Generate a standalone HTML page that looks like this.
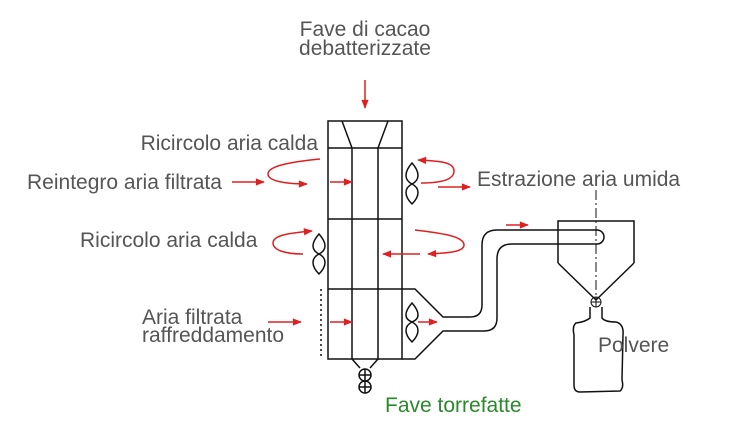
<!DOCTYPE html>
<html><head><meta charset="utf-8"><style>
html,body{margin:0;padding:0;background:#fff;}
svg{display:block}
text{font-family:"Liberation Sans",Arial,sans-serif;font-size:21px;fill:#555;}
</style></head><body>
<svg width="744" height="436" viewBox="0 0 744 436" xmlns="http://www.w3.org/2000/svg">
<defs>
<marker id="a" viewBox="0 0 10 10" refX="9" refY="5" markerWidth="11" markerHeight="9" orient="auto" markerUnits="userSpaceOnUse"><path d="M0,1 L10,5 L0,9 z" fill="#e02020"/></marker>
</defs>
<g fill="none" stroke="#111" stroke-width="1.5">
<rect x="328" y="121" width="74" height="238"/>
<line x1="328" y1="148" x2="402" y2="148"/>
<line x1="328" y1="219" x2="402" y2="219"/>
<line x1="328" y1="289" x2="402" y2="289"/>
<line x1="352" y1="148" x2="352" y2="359"/>
<line x1="378" y1="148" x2="378" y2="359"/>
<polyline points="342,121 352,148"/>
<polyline points="388,121 378,148"/>
<polyline points="352,359 360,368"/>
<polyline points="378,359 370,368"/>
<circle cx="365" cy="375" r="6"/><line x1="359" y1="375" x2="371" y2="375"/><line x1="365" y1="369" x2="365" y2="381"/>
<circle cx="365" cy="387" r="6"/><line x1="359" y1="387" x2="371" y2="387"/><line x1="365" y1="381" x2="365" y2="393"/>
<path d="M412,163 C404,172 404,180 412,184 C420,180 420,172 412,163 Z M412,184 C404,188 404,196 412,204 C420,196 420,188 412,184 Z"/>
<path d="M319,234 C311,243 311,250 319,254 C327,250 327,243 319,234 Z M319,254 C311,258 311,266 319,274 C327,266 327,258 319,254 Z"/>
<path d="M412,303 C404,312 404,319 412,322 C420,319 420,312 412,303 Z M412,322 C404,326 404,334 412,342 C420,334 420,326 412,322 Z"/>
<line x1="321" y1="289" x2="321" y2="359" stroke-dasharray="2,3"/>
<polyline points="402,289 415,289 443,317 470,317"/>
<polyline points="402,359 415,359 443,331 470,331"/>
<path d="M470,317 Q482,317 482,305 L482,245 Q482,230 497,230 L597,230 A7,7 0 0 1 597,244 L512,244 Q497,244 497,259 L497,318 Q497,331 484,331 L470,331"/>
<polyline points="558,263 558,221 634,221 634,263"/>
<polyline points="558,263 596,300 634,263"/>
<line x1="596" y1="190" x2="596" y2="305" stroke-width="1" stroke-dasharray="10,3,2,3"/>
<circle cx="596" cy="302" r="5" stroke-width="1"/>
<line x1="591" y1="302" x2="601" y2="302" stroke-width="1"/>
<line x1="596" y1="297" x2="596" y2="307" stroke-width="1"/>
<path d="M590,307 L590,318 Q585,322 576,323 Q572,326 574,335 L574,385 Q574,392 580,392 L620,391 Q624,388 622,380 L623,335 Q624,324 616,322 Q605,322 602,318 L602,307"/>
</g>
<g fill="none" stroke="#e02020" stroke-width="1.5">
<line x1="365" y1="80" x2="365" y2="108" marker-end="url(#a)"/>
<line x1="232" y1="182" x2="264" y2="182" marker-end="url(#a)"/>
<path d="M320,159 C290,162 268,166 268,174 C268,182 290,184 307,184" marker-end="url(#a)"/>
<line x1="330" y1="182" x2="352" y2="182" marker-end="url(#a)"/>
<path d="M421,183 C440,183 454,180 454,171 C454,162 440,161 418,160" marker-end="url(#a)"/>
<line x1="438" y1="187" x2="470" y2="187" marker-end="url(#a)"/>
<path d="M303,254 C285,254 273,250 273,243 C273,235 290,233 312,231" marker-end="url(#a)"/>
<path d="M415,230 C440,233 464,236 464,245 C464,252 448,253 428,254" marker-end="url(#a)"/>
<line x1="420" y1="254" x2="383" y2="254" marker-end="url(#a)"/>
<line x1="268" y1="322" x2="301" y2="322" marker-end="url(#a)"/>
<line x1="330" y1="322" x2="352" y2="322" marker-end="url(#a)"/>
<line x1="418" y1="322" x2="437" y2="322" marker-end="url(#a)"/>
<line x1="506" y1="225" x2="528" y2="225" marker-end="url(#a)"/>
</g>
<text x="365" y="36" text-anchor="middle">Fave di cacao</text>
<text x="365" y="55" text-anchor="middle">debatterizzate</text>
<text x="318" y="150" text-anchor="end">Ricircolo aria calda</text>
<text x="27" y="189">Reintegro aria filtrata</text>
<text x="477" y="186">Estrazione aria umida</text>
<text x="80" y="247">Ricircolo aria calda</text>
<text x="142" y="324">Aria filtrata</text>
<text x="142" y="342">raffreddamento</text>
<text x="598" y="352">Polvere</text>
<text x="385" y="412" style="fill:#2a8a2a">Fave torrefatte</text>
</svg>
</body></html>
